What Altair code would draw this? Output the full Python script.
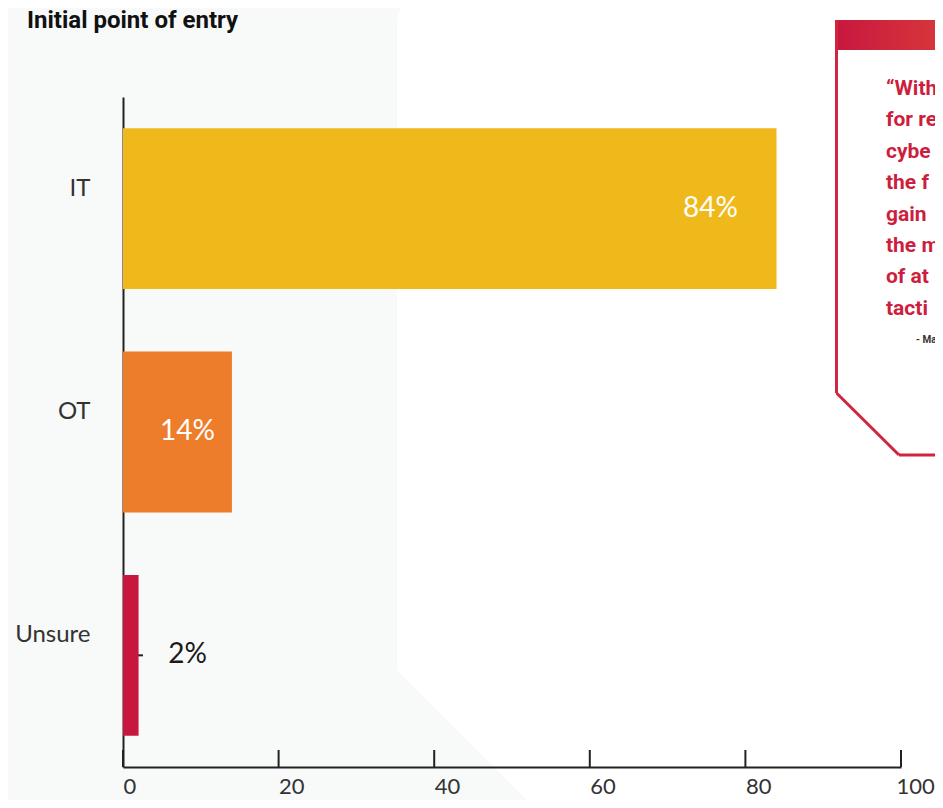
import altair as alt
import pandas as pd

# ---- data ----
categories = ["IT", "OT", "Unsure"]
values = [84, 14, 2]
labels = ["84%", "14%", "2%"]
bar_colors = ["#F0B91B", "#EE7D2B", "#C8173F"]
label_colors = ["#FFFFFF", "#FFFFFF", "#1A1A1A"]
x_ticks = [0, 20, 40, 60, 80, 100]
title_text = "Initial point of entry"
quote_lines = ["\u201cWith", "for re", "cybe", "the f", "gain", "the m", "of at", "tacti"]
attribution = "- Ma"

W, H = 778, 670

df = pd.DataFrame({"category": categories, "value": values, "label": labels,
                   "color": bar_colors, "tcolor": label_colors})
ticks_df = pd.DataFrame({"t": x_ticks})
one = pd.DataFrame({"k": [0]})

xscale = alt.Scale(domain=[0, 100], nice=False, zero=True)
yscale = alt.Scale(domain=categories, paddingInner=0.28, paddingOuter=0.14)

yaxis = alt.Axis(title=None, domain=True, domainColor="#222222", domainWidth=2,
                 ticks=False, labelPadding=33, labelFontSize=24, labelFont="Lato",
                 labelColor="#333333", labelOffset=-20, labelAlign="right",
                 grid=False)
xaxis = alt.Axis(title=None, values=x_ticks, ticks=False, grid=False,
                 domainColor="#222222", domainWidth=2, labelAlign="left",
                 labelBaseline="alphabetic", labelPadding=26, labelFontSize=22,
                 labelFont="Lato", labelColor="#333333", labelFlush=False,
                 labelOverlap=False, zindex=1,
                 labelOffset={"condition": {"test": "datum.value == 100", "value": -5}, "value": 0})

# ---- background decoration ----
bg = alt.Chart(one).mark_rect(fill="#ffffff", cornerRadiusTopLeft=30).encode(
    x=alt.value(274), x2=alt.value(860), y=alt.value(-104), y2=alt.value(740))
tri = alt.Chart(one).mark_point(
    shape="M -1 -1 L -1 1 L 1 1 Z", size=19600, filled=True,
    fill="#f8f9f9", opacity=1, strokeWidth=0).encode(
    x=alt.value(344), y=alt.value(643))

# ---- callout ----
grad = alt.Gradient(gradient="linear",
                    stops=[alt.GradientStop(color="#C8173F", offset=0),
                           alt.GradientStop(color="#DA3D3A", offset=1)],
                    x1=0, x2=1, y1=0, y2=0)
header = alt.Chart(one).mark_rect(fill=grad).encode(
    x=alt.value(712), x2=alt.value(840), y=alt.value(-77), y2=alt.value(-47))
border_col = "#D2243F"
b1 = alt.Chart(one).mark_rule(color=border_col, strokeWidth=3).encode(
    x=alt.value(713.5), y=alt.value(-77), y2=alt.value(296))
b2 = alt.Chart(one).mark_rule(color=border_col, strokeWidth=3).encode(
    x=alt.value(713.5), x2=alt.value(776), y=alt.value(296), y2=alt.value(358))
b3 = alt.Chart(one).mark_rule(color=border_col, strokeWidth=3).encode(
    x=alt.value(776), x2=alt.value(860), y=alt.value(358))
quote = alt.Chart(one).mark_text(
    align="left", baseline="alphabetic", font="Roboto", fontWeight="bold",
    fontSize=21, color="#CC1F40", lineBreak="\n", lineHeight=31.4).encode(
    x=alt.value(763), y=alt.value(-2), text=alt.value("\n".join(quote_lines)))
attrib = alt.Chart(one).mark_text(
    align="left", baseline="alphabetic", font="Roboto", fontWeight="bold",
    fontSize=10, color="#333333").encode(
    x=alt.value(793), y=alt.value(246), text=alt.value(attribution))

title = alt.Chart(one).mark_text(
    align="left", baseline="alphabetic", font="Roboto", fontWeight="bold",
    fontSize=24, color="#111111").encode(
    x=alt.value(-96), y=alt.value(-69), text=alt.value(title_text))

# ---- chart ----
yticks = alt.Chart(df).mark_rule(color="#222222", strokeWidth=2).encode(
    y=alt.Y("category:N", scale=yscale, axis=yaxis, sort=categories),
    x=alt.value(0), x2=alt.value(20))
bars = alt.Chart(df).mark_bar().encode(
    y=alt.Y("category:N", scale=yscale, axis=yaxis, sort=categories),
    x=alt.X("value:Q", scale=xscale, axis=xaxis),
    color=alt.Color("color:N", scale=None))
bartext = alt.Chart(df).transform_calculate(
    lx="max(datum.value - 8.5, 8.3)").mark_text(
    align="center", baseline="middle", font="Lato", fontWeight=400,
    fontSize=28).encode(
    x=alt.X("lx:Q", scale=xscale, axis=xaxis),
    y=alt.Y("category:N", scale=yscale, axis=yaxis, sort=categories),
    text="label:N",
    color=alt.Color("tcolor:N", scale=None))
xticks = alt.Chart(ticks_df).mark_rule(color="#222222", strokeWidth=2).encode(
    x=alt.X("t:Q", scale=xscale, axis=xaxis),
    y=alt.value(H - 17), y2=alt.value(H))

chart = alt.layer(bg, tri, header, b1, b2, b3, quote, attrib, title,
                  yticks, bars, bartext, xticks).properties(
    width=W, height=H,
    padding={"left": 115, "top": 89, "right": 34, "bottom": 33},
    autosize=alt.AutoSizeParams(type="none"),
).configure(background="#f8f9f9").configure_view(stroke=None)

chart.save("out.html", embed_options={"renderer": "svg", "actions": False})
